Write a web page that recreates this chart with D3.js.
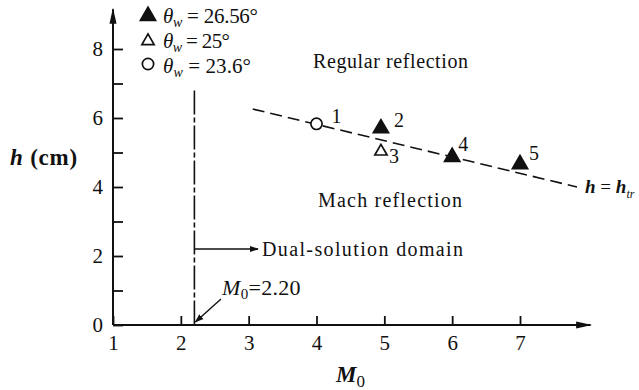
<!DOCTYPE html>
<html>
<head>
<meta charset="utf-8">
<script src="https://cdn.jsdelivr.net/npm/d3@7"></script>
<style>
  html, body { margin: 0; padding: 0; background: #fff; }
  svg { display: block; }
  text { font-family: "Liberation Serif", "Times New Roman", serif; fill: #111; }
</style>
</head>
<body>
<svg id="chart" width="639" height="390"></svg>
<script>
// Measured reflection-transition heights h (cm) against free-stream Mach number M0
const pointIds     = ["1", "2", "3", "4", "5"];
const pointMach    = [4, 4.95, 4.95, 6, 7];
const pointHeight  = [5.83, 5.70, 5.03, 4.87, 4.66];
const pointSeries  = ["w236", "w2656", "w25", "w2656", "w2656"];

// Wedge-angle series shown in the key
const seriesKeys   = ["w2656", "w25", "w236"];
const seriesLabels = ["26.56°", "25°", "23.6°"];

// Transition line h = h_tr
const trendMach    = [3.06, 7.84];
const trendHeight  = [6.26, 4.00];

// Dual-solution boundary
const boundaryMach = 2.20;
const boundaryTop  = 6.8;

// Axis ticks
const xTicks = [1, 2, 3, 4, 5, 6, 7];
const yTicks = [0, 1, 2, 3, 4, 5, 6, 7, 8];
const yTickLabels = [0, 2, 4, 6, 8];

const svg = d3.select("#chart");
const x = d3.scaleLinear().domain([1, 7]).range([113, 520]);
const y = d3.scaleLinear().domain([0, 8]).range([325, 49]);

const ink = "#111";
const serif = "Liberation Serif, Times New Roman, serif";

// Arrowhead markers
const defs = svg.append("defs");
defs.append("marker")
  .attr("id", "arrow")
  .attr("viewBox", "0 0 10 10")
  .attr("refX", 9).attr("refY", 5)
  .attr("markerWidth", 9).attr("markerHeight", 9)
  .attr("markerUnits", "userSpaceOnUse")
  .attr("orient", "auto")
  .append("path").attr("d", "M0,1.5 L10,5 L0,8.5 Z").attr("fill", ink);
defs.append("marker")
  .attr("id", "arrowBig")
  .attr("viewBox", "0 0 10 10")
  .attr("refX", 9).attr("refY", 5)
  .attr("markerWidth", 16).attr("markerHeight", 16)
  .attr("markerUnits", "userSpaceOnUse")
  .attr("orient", "auto")
  .append("path").attr("d", "M0,2.8 L10,5 L0,7.2 Z").attr("fill", ink);

// Axis lines with arrowheads
svg.append("line")
  .attr("x1", x(1)).attr("y1", y(0)).attr("x2", x(8.04)).attr("y2", y(0))
  .attr("stroke", ink).attr("stroke-width", 2).attr("marker-end", "url(#arrowBig)");
svg.append("line")
  .attr("x1", x(1)).attr("y1", y(0)).attr("x2", x(1)).attr("y2", y(9.15))
  .attr("stroke", ink).attr("stroke-width", 2).attr("marker-end", "url(#arrowBig)");

// X axis ticks and labels
const xAxis = svg.append("g")
  .attr("transform", `translate(0,${y(0)})`)
  .call(d3.axisBottom(x).tickValues(xTicks).tickSizeInner(-9).tickSizeOuter(0).tickPadding(10).tickFormat(d3.format("d")));
xAxis.select(".domain").remove();
xAxis.attr("font-family", serif);
xAxis.selectAll("line").attr("stroke", ink).attr("stroke-width", 1.8);
xAxis.selectAll("text").attr("font-size", 21).attr("fill", ink);

// Y axis ticks and labels
const yAxis = svg.append("g")
  .attr("transform", `translate(${x(1)},0)`)
  .call(d3.axisLeft(y).tickValues(yTicks).tickSizeInner(-10).tickSizeOuter(0).tickPadding(10)
    .tickFormat(d => yTickLabels.includes(d) ? d3.format("d")(d) : ""));
yAxis.select(".domain").remove();
yAxis.attr("font-family", serif);
yAxis.selectAll("line").attr("stroke", ink).attr("stroke-width", 1.8);
yAxis.selectAll("text").attr("font-size", 21).attr("fill", ink);

// Axis titles
const yTitle = svg.append("text").attr("x", 10).attr("y", 165).attr("font-size", 23)
  .attr("letter-spacing", 0.8);
yTitle.append("tspan").attr("font-style", "italic").attr("font-weight", "bold").text("h");
yTitle.append("tspan").attr("font-weight", "bold").text(" (cm)");

const xTitle = svg.append("text").attr("x", 336).attr("y", 382).attr("font-size", 23);
xTitle.append("tspan").attr("font-style", "italic").attr("font-weight", "bold").text("M");
xTitle.append("tspan").attr("dy", 5).attr("font-size", 17).text("0");

// Dual-solution boundary (dash-dot line)
svg.append("line")
  .attr("x1", x(boundaryMach)).attr("y1", y(boundaryTop))
  .attr("x2", x(boundaryMach)).attr("y2", y(0))
  .attr("stroke", ink).attr("stroke-width", 1.6)
  .attr("stroke-dasharray", "24,3,5,3");

// Dual-solution domain arrow and label
svg.append("line")
  .attr("x1", x(boundaryMach)).attr("y1", 249)
  .attr("x2", 258).attr("y2", 249)
  .attr("stroke", ink).attr("stroke-width", 1.6).attr("marker-end", "url(#arrow)");
svg.append("text").attr("x", 262).attr("y", 256).attr("font-size", 20)
  .attr("textLength", 201).attr("lengthAdjust", "spacing").text("Dual-solution domain");

// M0 = 2.20 annotation
svg.append("line")
  .attr("x1", 221).attr("y1", 299)
  .attr("x2", x(boundaryMach) + 1).attr("y2", y(0) - 3)
  .attr("stroke", ink).attr("stroke-width", 1.4).attr("marker-end", "url(#arrow)");
const mLabel = svg.append("text").attr("x", 222).attr("y", 295).attr("font-size", 22)
  .attr("letter-spacing", 0.3);
mLabel.append("tspan").attr("font-style", "italic").text("M");
mLabel.append("tspan").attr("dy", 4).attr("font-size", 15).text("0");
mLabel.append("tspan").attr("dy", -4).text("=2.20");

// Region labels
svg.append("text").attr("x", 313).attr("y", 68).attr("font-size", 20)
  .attr("textLength", 155).attr("lengthAdjust", "spacing").text("Regular reflection");
svg.append("text").attr("x", 318).attr("y", 207).attr("font-size", 20)
  .attr("textLength", 144).attr("lengthAdjust", "spacing").text("Mach reflection");

// Transition line h = h_tr
svg.append("path")
  .datum(d3.zip(trendMach, trendHeight))
  .attr("d", d3.line().x(d => x(d[0])).y(d => y(d[1])))
  .attr("fill", "none").attr("stroke", ink).attr("stroke-width", 1.6)
  .attr("stroke-dasharray", "12,6");
const trLabel = svg.append("text").attr("x", 585).attr("y", 193).attr("font-size", 19);
trLabel.append("tspan").attr("font-style", "italic").attr("font-weight", "bold").text("h");
trLabel.append("tspan").text(" = ");
trLabel.append("tspan").attr("font-style", "italic").attr("font-weight", "bold").text("h");
trLabel.append("tspan").attr("dy", 5).attr("font-size", 12).attr("font-style", "italic").text("tr");

// Marker styles per series
const markerStyle = {
  w2656: { type: d3.symbolTriangle, size: 100, fill: ink, stroke: ink },
  w25:   { type: d3.symbolTriangle, size: 65, fill: "#fff", stroke: ink },
  w236:  { type: d3.symbolCircle, size: 100, fill: "#fff", stroke: ink }
};
const symbolPath = k => d3.symbol().type(markerStyle[k].type).size(markerStyle[k].size)();

// Data points
const points = pointIds.map((id, i) => ({ id, m: pointMach[i], h: pointHeight[i], s: pointSeries[i] }));
svg.append("g").selectAll("path")
  .data(points).join("path")
  .attr("transform", d => `translate(${x(d.m)},${y(d.h)})`)
  .attr("d", d => symbolPath(d.s))
  .attr("fill", d => markerStyle[d.s].fill)
  .attr("stroke", d => markerStyle[d.s].stroke)
  .attr("stroke-width", 1.7);

// Point number labels
const labelOffset = [[15, -1], [13, -1], [8, 12], [6, -6], [9, -4]];
svg.append("g").selectAll("text")
  .data(points).join("text")
  .attr("x", (d, i) => x(d.m) + labelOffset[i][0])
  .attr("y", (d, i) => y(d.h) + labelOffset[i][1])
  .attr("font-size", 20)
  .text(d => d.id);

// Key
const keyWidths = [95, 67, 88];
const key = svg.append("g");
seriesKeys.forEach((k, i) => {
  const cy = 16 + i * 25;
  key.append("path")
    .attr("transform", `translate(148,${cy - (markerStyle[k].type === d3.symbolCircle ? 2 : 0)})`)
    .attr("d", symbolPath(k))
    .attr("fill", markerStyle[k].fill)
    .attr("stroke", markerStyle[k].stroke)
    .attr("stroke-width", 1.7);
  const t = key.append("text").attr("x", 163).attr("y", cy + 7).attr("font-size", 21)
    .attr("textLength", keyWidths[i]).attr("lengthAdjust", "spacing");
  t.append("tspan").attr("font-style", "italic").text("θ");
  t.append("tspan").attr("dy", 4).attr("font-size", 14).attr("font-style", "italic").text("w");
  t.append("tspan").attr("dy", -4).text(" = " + seriesLabels[i]);
});
</script>
</body>
</html>
